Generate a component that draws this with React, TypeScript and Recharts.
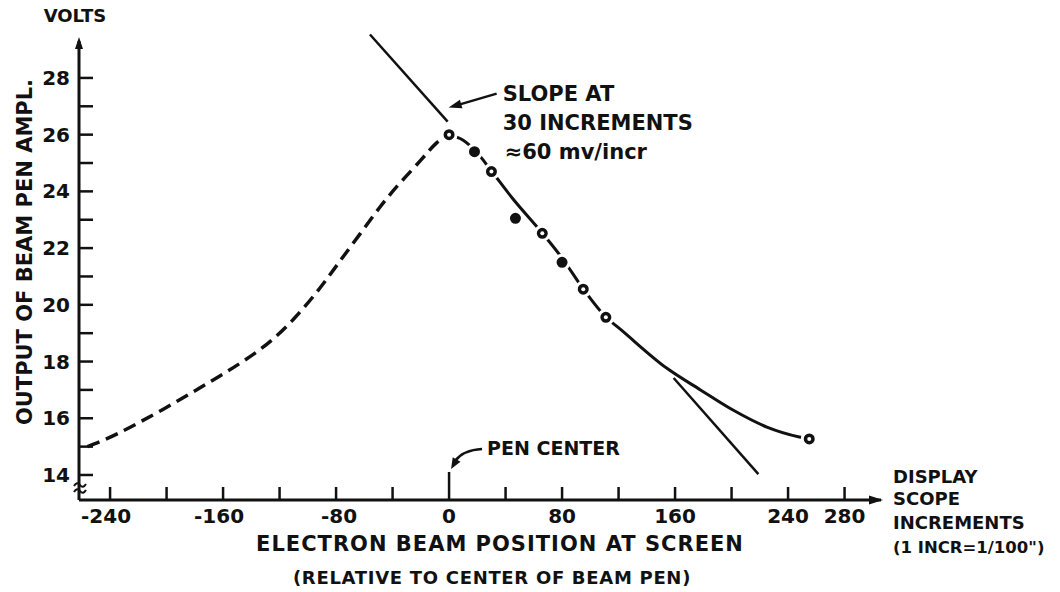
import React from "react";
import {
  ComposedChart,
  Line,
  Scatter,
  XAxis,
  YAxis,
  ReferenceLine,
  ReferenceDot
} from "recharts";

// axis ticks (display scope increments / volts)
const xTicks = [-240, -200, -160, -120, -80, -40, 0, 40, 80, 120, 160, 200, 240, 280];
const xTickLabels = [-240, -160, -80, 0, 80, 160, 240, 280];
const yTicks = [14, 15, 16, 17, 18, 19, 20, 21, 22, 23, 24, 25, 26, 27, 28];
const yTickLabels = [14, 16, 18, 20, 22, 24, 26, 28];

const xDomain = [-262, 305.8];
const yDomain = [13.118, 29.69];

// measured points
const pointPos = [0, 18, 30, 47, 66, 80, 95, 111, 255];
const pointVolts = [26.0, 25.4, 24.7, 23.05, 22.52, 21.5, 20.55, 19.56, 15.27];
const pointFilled = [false, true, false, true, false, true, false, false, false];

// solid curve through the measurements
const fitPos = [0, 10, 20, 30, 45, 66, 80, 95, 111, 121, 154, 178, 201, 225, 248, 255];
const fitVolts = [26.0, 25.8, 25.35, 24.72, 23.75, 22.53, 21.65, 20.56, 19.57, 19.15, 17.77, 17.0, 16.29, 15.69, 15.34, 15.27];

// dashed curve on the other side of pen center
const dashPos = [-256, -235, -202, -167, -134, -110, -91, -77, -63, -49, -35, -20, -9, 0];
const dashVolts = [15.0, 15.45, 16.33, 17.35, 18.42, 19.5, 20.62, 21.56, 22.5, 23.44, 24.28, 25.1, 25.7, 26.0];

// slope line (~60 mv/incr), drawn in two pieces
const slopePos = [-56, -1, 159, 219];
const slopeVolts = [29.53, 26.46, 17.42, 14.03];

const measured = pointPos.map((x, i) => ({ x, v: pointVolts[i], filled: pointFilled[i] }));
const fitted = fitPos.map((x, i) => ({ x, v: fitVolts[i] }));
const dashed = dashPos.map((x, i) => ({ x, v: dashVolts[i] }));

const FONT = "'DejaVu Sans', sans-serif";
const INK = "#111";

const arrowHead = (x1: number, y1: number, x2: number, y2: number, len = 11, w = 4.5) => {
  const dx = x2 - x1;
  const dy = y2 - y1;
  const d = Math.sqrt(dx * dx + dy * dy);
  const ux = dx / d;
  const uy = dy / d;
  const bx = x2 - ux * len;
  const by = y2 - uy * len;
  return `${x2},${y2} ${bx - uy * w},${by + ux * w} ${bx + uy * w},${by - ux * w}`;
};

const txt = (x: number, y: number, s: string, size: number, anchor = "start", extra: any = {}) => (
  <text
    x={x}
    y={y}
    fontFamily={FONT}
    fontWeight="bold"
    fontSize={size}
    fill={INK}
    textAnchor={anchor}
    dominantBaseline="central"
    {...extra}
  >
    {s}
  </text>
);

const XTick = (props: any) => {
  const { x, y, payload } = props;
  const v = payload.value;
  const len = v === 0 ? 28 : 13;
  const show = xTickLabels.includes(v);
  return (
    <g>
      <line x1={x} y1={y} x2={x} y2={y - len} stroke={INK} strokeWidth={2.5} />
      {show && txt(v < 0 ? x + 21 : x, y + 16, String(v), 20, v < 0 ? "end" : "middle")}
    </g>
  );
};

const YTick = (props: any) => {
  const { x, y, payload } = props;
  const v = payload.value;
  const show = yTickLabels.includes(v);
  return (
    <g>
      <line x1={x} y1={y} x2={x + 14} y2={y} stroke={INK} strokeWidth={2.5} />
      {show && txt(x - 9, y, String(v), 20, "end")}
    </g>
  );
};

const Marker = (props: any) => {
  const { cx, cy, payload } = props;
  return (
    <g>
      <circle cx={cx} cy={cy} r={7} fill={INK} stroke="#fff" strokeWidth={3} />
      {!payload.filled && <circle cx={cx} cy={cy} r={2} fill="#fff" />}
    </g>
  );
};

// origin frame: break mark, axis titles
const OriginNote = (props: any) => {
  const { cx, cy } = props;
  return (
    <g>
      <path
        d={`M ${cx - 5} ${cy - 14} q 3 -5 6 -1 t 6 -1 M ${cx - 5} ${cy - 8} q 3 -5 6 -1 t 6 -1`}
        stroke={INK}
        strokeWidth={2}
        fill="none"
      />
      {txt(cx - 54, cy - 248, "OUTPUT OF BEAM PEN AMPL.", 21, "middle", {
        transform: `rotate(-90 ${cx - 54} ${cy - 248})`
      })}
      {txt(cx + 421, cy + 44, "ELECTRON BEAM POSITION AT SCREEN", 21, "middle", { letterSpacing: 1 })}
      {txt(cx + 413, cy + 77, "(RELATIVE TO CENTER OF BEAM PEN)", 18, "middle", { letterSpacing: 0.7 })}
    </g>
  );
};

const YArrow = (props: any) => {
  const { cx, cy } = props;
  return (
    <g>
      <polygon points={arrowHead(cx, cy + 12, cx, cy, 12, 4)} fill={INK} />
      {txt(cx - 4, cy - 21, "VOLTS", 18, "middle")}
    </g>
  );
};

const XArrow = (props: any) => {
  const { cx, cy } = props;
  return (
    <g>
      <polygon points={arrowHead(cx - 12, cy, cx + 2, cy, 14, 4.5)} fill={INK} />
      {txt(cx + 12, cy - 24, "DISPLAY", 18)}
      {txt(cx + 12, cy - 2, "SCOPE", 18)}
      {txt(cx + 12, cy + 22, "INCREMENTS", 18)}
      {txt(cx + 12, cy + 47, "(1 INCR=1/100\")", 16.5)}
    </g>
  );
};

const SlopeNote = (props: any) => {
  const { cx, cy } = props;
  return (
    <g>
      <line x1={cx + 49} y1={cy - 28} x2={cx + 8} y2={cy - 16} stroke={INK} strokeWidth={2.5} />
      <polygon points={arrowHead(cx + 49, cy - 28, cx + 1, cy - 14, 13, 4.5)} fill={INK} />
      {txt(cx + 55, cy - 28, "SLOPE AT", 21)}
      {txt(cx + 55, cy + 1, "30 INCREMENTS", 21)}
      {txt(cx + 57, cy + 30, "\u224860 mv/incr", 21)}
    </g>
  );
};

const PenNote = (props: any) => {
  const { cx, cy } = props;
  return (
    <g>
      <path
        d={`M ${cx + 33} ${cy - 51} Q ${cx + 14} ${cy - 50} ${cx + 6} ${cy - 39}`}
        stroke={INK}
        strokeWidth={2.5}
        fill="none"
      />
      <polygon points={arrowHead(cx + 9, cy - 43, cx + 2, cy - 31, 11, 4.5)} fill={INK} />
      {txt(cx + 38, cy - 52, "PEN CENTER", 19)}
    </g>
  );
};

export default function App() {
  return (
    <div style={{ position: "absolute", left: 0, top: 0, width: 1060, height: 592, background: "#fff" }}>
      <ComposedChart
        width={1060}
        height={592}
        margin={{ top: 30, right: 179, bottom: 62, left: 49 }}
      >
        <XAxis
          type="number"
          dataKey="x"
          domain={xDomain}
          ticks={xTicks}
          allowDataOverflow
          axisLine={false}
          tickLine={false}
          tickSize={0}
          tickMargin={0}
          height={30}
          interval={0}
          tick={<XTick />}
        />
        <YAxis
          type="number"
          dataKey="v"
          domain={yDomain}
          ticks={yTicks}
          allowDataOverflow
          axisLine={false}
          tickLine={false}
          tickSize={0}
          tickMargin={0}
          width={30}
          interval={0}
          tick={<YTick />}
        />

        {/* axes */}
        <ReferenceLine
          segment={[{ x: xDomain[0], y: yDomain[0] }, { x: xDomain[1], y: yDomain[0] }]}
          stroke={INK}
          strokeWidth={3}
          ifOverflow="visible"
        />
        <ReferenceLine
          segment={[{ x: xDomain[0], y: yDomain[0] }, { x: xDomain[0], y: 29.3 }]}
          stroke={INK}
          strokeWidth={3}
          ifOverflow="visible"
        />
        <ReferenceDot x={xDomain[0]} y={29.446} r={0} ifOverflow="visible" shape={<YArrow />} />
        <ReferenceDot x={xDomain[1]} y={yDomain[0]} r={0} ifOverflow="visible" shape={<XArrow />} />
        <ReferenceDot x={xDomain[0]} y={yDomain[0]} r={0} ifOverflow="visible" shape={<OriginNote />} />

        {/* slope line */}
        <ReferenceLine
          segment={[{ x: slopePos[0], y: slopeVolts[0] }, { x: slopePos[1], y: slopeVolts[1] }]}
          stroke={INK}
          strokeWidth={2.5}
          ifOverflow="visible"
        />
        <ReferenceLine
          segment={[{ x: slopePos[2], y: slopeVolts[2] }, { x: slopePos[3], y: slopeVolts[3] }]}
          stroke={INK}
          strokeWidth={2.5}
          ifOverflow="visible"
        />

        <Line
          data={dashed}
          dataKey="v"
          type="natural"
          stroke={INK}
          strokeWidth={3.5}
          strokeDasharray="13 7"
          dot={false}
          isAnimationActive={false}
        />
        <Line
          data={fitted}
          dataKey="v"
          type="monotone"
          stroke={INK}
          strokeWidth={3}
          dot={false}
          isAnimationActive={false}
        />
        <Scatter data={measured} dataKey="v" shape={<Marker />} isAnimationActive={false} />

        <ReferenceDot x={slopePos[1]} y={slopeVolts[1]} r={0} ifOverflow="visible" shape={<SlopeNote />} />
        <ReferenceDot x={0} y={yDomain[0]} r={0} ifOverflow="visible" shape={<PenNote />} />
      </ComposedChart>
    </div>
  );
}
